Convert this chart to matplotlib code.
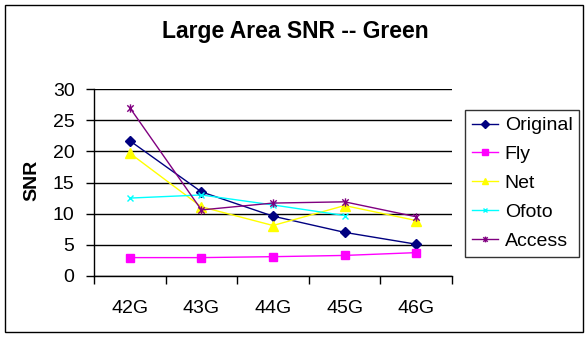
import numpy as np
import matplotlib
matplotlib.use("Agg")
import matplotlib.pyplot as plt
from matplotlib.path import Path
from matplotlib.patches import Rectangle
from matplotlib.ticker import MultipleLocator

plt.rcParams['font.family'] = ['Liberation Sans', 'DejaVu Sans']

categories = ["42G", "43G", "44G", "45G", "46G"]
original = [21.7, 13.5, 9.6, 7.0, 5.1]
fly = [2.95, 2.95, 3.1, 3.3, 3.75]
net = [19.7, 11.1, 8.1, 11.3, 8.9]
ofoto = [12.5, 13.0, 11.4, 9.7, np.nan]
access = [27.0, 10.6, 11.7, 11.9, 9.5]

# star marker: an x with a vertical stroke
star = Path([(-1, -1), (1, 1), (-1, 1), (1, -1), (0, -1.3), (0, 1.3)],
            [Path.MOVETO, Path.LINETO, Path.MOVETO, Path.LINETO, Path.MOVETO, Path.LINETO])

fig = plt.figure(figsize=(5.88, 3.37), dpi=100)
fig.patch.set_facecolor("white")
ax = fig.add_axes([94 / 588, 1 - 276 / 337, (452 - 94) / 588, (276 - 89) / 337])

x = np.arange(len(categories))
series = [
    ("Original", original, "#000080", dict(marker="D", ms=5.5, mfc="#000080", mec="#000080")),
    ("Fly", fly, "#FF00FF", dict(marker="s", ms=5.5, mfc="#FF00FF", mec="#FF00FF")),
    ("Net", net, "#FFFF00", dict(marker="^", ms=7, mfc="#FFFF00", mec="#FFFF00")),
    ("Ofoto", ofoto, "#00FFFF", dict(marker="x", ms=5, mec="#00FFFF", mew=1.0)),
    ("Access", access, "#800080", dict(marker=star, ms=6, mec="#800080", mfc="none", mew=1.0)),
]
for name, vals, col, mk in series:
    ax.plot(x, vals, color=col, lw=1.0, label=name, **mk, clip_on=False, zorder=3)

ax.set_xlim(-0.5, len(categories) - 0.5)
ax.set_ylim(0, 30)
ax.yaxis.set_major_locator(MultipleLocator(5))
ax.grid(axis="y", color="black", lw=1.0)
ax.set_axisbelow(True)
for s in ["top", "right"]:
    ax.spines[s].set_visible(False)
for s in ["left", "bottom"]:
    ax.spines[s].set_color("black")
    ax.spines[s].set_linewidth(1.0)

ax.set_xticks(x)
ax.set_xticklabels(categories)
ax.set_xticks(np.arange(-0.5, len(categories)), minor=True)
ax.tick_params(axis="x", which="major", length=0, pad=17.5, labelsize=14)
ax.tick_params(axis="x", which="minor", length=6, width=1.0, direction="out", color="black")
ax.tick_params(axis="y", length=6, width=1.0, direction="out", pad=8, labelsize=14)

fig.text(32 / 588, 1 - 180 / 337, "SNR", rotation=90, fontsize=14, fontweight="bold",
         ha="center", va="center")
fig.text(295 / 588, 1 - 38 / 337, "Large Area SNR -- Green", fontsize=16.5,
         fontweight="bold", ha="center", va="baseline")

leg = fig.legend(loc="upper left", bbox_to_anchor=(465 / 588, 1 - 110 / 337),
                 bbox_transform=fig.transFigure, fontsize=14, frameon=True,
                 fancybox=False, shadow=False, edgecolor="black", handlelength=1.35,
                 handletextpad=0.35, labelspacing=0.58, borderpad=0.35, borderaxespad=0,
                 markerscale=0.7)
leg.get_frame().set_linewidth(1.0)

fig.patches.append(Rectangle((5 / 588, 1 - 332 / 337), 578 / 588, 327 / 337,
                             transform=fig.transFigure, fill=False, ec="black", lw=1.0))

fig.savefig("out.png", dpi=100)
